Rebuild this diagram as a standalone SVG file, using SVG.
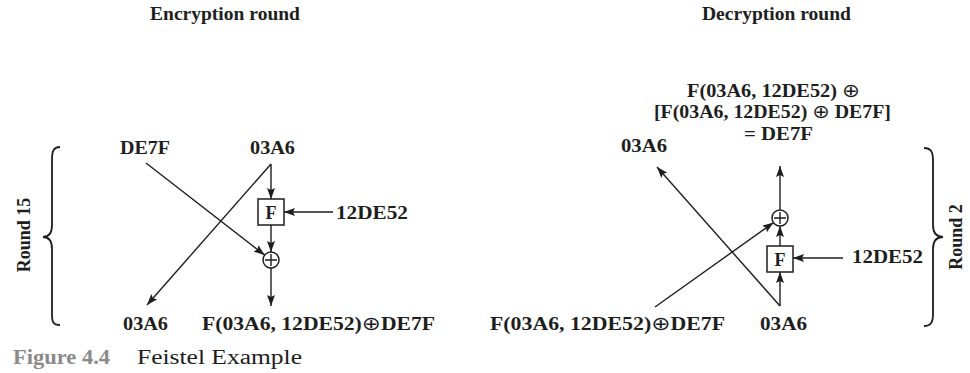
<svg xmlns="http://www.w3.org/2000/svg" width="970" height="373" viewBox="0 0 970 373">
<defs>
<style>
.t{font-family:"Liberation Serif","DejaVu Serif",serif;font-weight:bold;font-size:18px;fill:#1e1e1e}
.x{font-family:"DejaVu Sans",sans-serif;font-weight:normal;font-size:19px}
.ln{stroke:#1e1e1e;stroke-width:1.4;fill:none}
.arr{marker-end:url(#ah)}
.box{fill:#fff;stroke:#1e1e1e;stroke-width:1.5}
.br{stroke:#1e1e1e;stroke-width:1.8;fill:none}
.cap{font-family:"Liberation Serif","DejaVu Serif",serif;font-size:20px}
</style>
<marker id="ah" viewBox="0 0 11 8" refX="11" refY="4" markerWidth="11" markerHeight="8" markerUnits="userSpaceOnUse" orient="auto">
<path d="M0,0 L11,4 L0,8 L2,4 z" fill="#1e1e1e"/>
</marker>
</defs>
<rect width="970" height="373" fill="#fff"/>

<g id="titles">
<text class="t" x="150" y="20" textLength="150" lengthAdjust="spacingAndGlyphs">Encryption round</text>
<text class="t" x="702" y="20" textLength="149" lengthAdjust="spacingAndGlyphs">Decryption round</text>
</g>

<g id="connectors">
<path class="ln arr" d="M146,163 L264.7,255.1"/>
<path class="ln arr" d="M271,164 L271,199"/>
<path class="ln arr" d="M271,164 L147,305"/>
<path class="ln arr" d="M333,212 L284,212"/>
<path class="ln arr" d="M271,225 L271,252"/>
<path class="ln arr" d="M271,268 L271,306"/>
<path class="ln arr" d="M780,306 L780,272"/>
<path class="ln arr" d="M780,306 L657,167"/>
<path class="ln arr" d="M843,258 L793,258"/>
<path class="ln arr" d="M780,246 L780,226"/>
<path class="ln arr" d="M780,210 L780,166"/>
<path class="ln arr" d="M655,307 L773.5,222.6"/>
</g>

<g id="enc-left-in"><text class="t" x="120" y="154" textLength="50" lengthAdjust="spacingAndGlyphs">DE7F</text></g>
<g id="enc-right-in"><text class="t" x="250" y="154" textLength="45" lengthAdjust="spacingAndGlyphs">03A6</text></g>
<g id="enc-key"><text class="t" x="336" y="219" textLength="72" lengthAdjust="spacingAndGlyphs">12DE52</text></g>
<g id="enc-F">
<rect class="box" x="258" y="199" width="26" height="26"/>
<text class="t" x="271" y="219" text-anchor="middle">F</text>
</g>
<g id="enc-xor">
<circle class="box" cx="271" cy="260" r="8"/>
<path class="ln" d="M265,260 H277 M271,254 V266"/>
</g>
<g id="enc-left-out"><text class="t" x="123" y="330" textLength="45" lengthAdjust="spacingAndGlyphs">03A6</text></g>
<g id="enc-right-out"><text class="t" x="202" y="330" textLength="233" lengthAdjust="spacingAndGlyphs">F(03A6, 12DE52)<tspan class="x">⊕</tspan>DE7F</text></g>
<g id="enc-brace">
<path class="br" d="M60,147 C53,147 52,152 52,160 L52,225 C52,233 49,237 43,237 C49,237 52,241 52,249 L52,314 C52,322 53,325 60,325"/>
<text class="t" font-size="19" transform="translate(30,235) rotate(-90)" text-anchor="middle">Round 15</text>
</g>

<g id="dec-result">
<text class="t" x="687" y="97" textLength="173" lengthAdjust="spacingAndGlyphs">F(03A6, 12DE52) <tspan class="x">⊕</tspan></text>
<text class="t" x="654" y="118" textLength="237" lengthAdjust="spacingAndGlyphs">[F(03A6, 12DE52) <tspan class="x">⊕</tspan> DE7F]</text>
<text class="t" x="744" y="140" textLength="69" lengthAdjust="spacingAndGlyphs">= DE7F</text>
</g>
<g id="dec-left-out"><text class="t" x="621" y="152" textLength="46" lengthAdjust="spacingAndGlyphs">03A6</text></g>
<g id="dec-key"><text class="t" x="852" y="263" textLength="71" lengthAdjust="spacingAndGlyphs">12DE52</text></g>
<g id="dec-F">
<rect class="box" x="767" y="246" width="26" height="26"/>
<text class="t" x="780" y="266" text-anchor="middle">F</text>
</g>
<g id="dec-xor">
<circle class="box" cx="780" cy="218" r="8"/>
<path class="ln" d="M774,218 H786 M780,212 V224"/>
</g>
<g id="dec-left-in"><text class="t" x="490" y="330" textLength="235" lengthAdjust="spacingAndGlyphs">F(03A6, 12DE52)<tspan class="x">⊕</tspan>DE7F</text></g>
<g id="dec-right-in"><text class="t" x="760" y="330" textLength="47" lengthAdjust="spacingAndGlyphs">03A6</text></g>
<g id="dec-brace">
<path class="br" d="M924,148 C931,148 933,152 933,160 L933,225 C933,233 936,237 943,237 C936,237 933,241 933,249 L933,314 C933,322 931,326 924,326"/>
<text class="t" font-size="19" transform="translate(962,237) rotate(-90)" text-anchor="middle">Round 2</text>
</g>

<g id="caption">
<text class="cap" x="13" y="364" font-weight="bold" fill="#8a8a8a" textLength="97" lengthAdjust="spacingAndGlyphs">Figure 4.4</text>
<text class="cap" x="137" y="364" fill="#1e1e1e" textLength="165" lengthAdjust="spacingAndGlyphs">Feistel Example</text>
</g>
</svg>
